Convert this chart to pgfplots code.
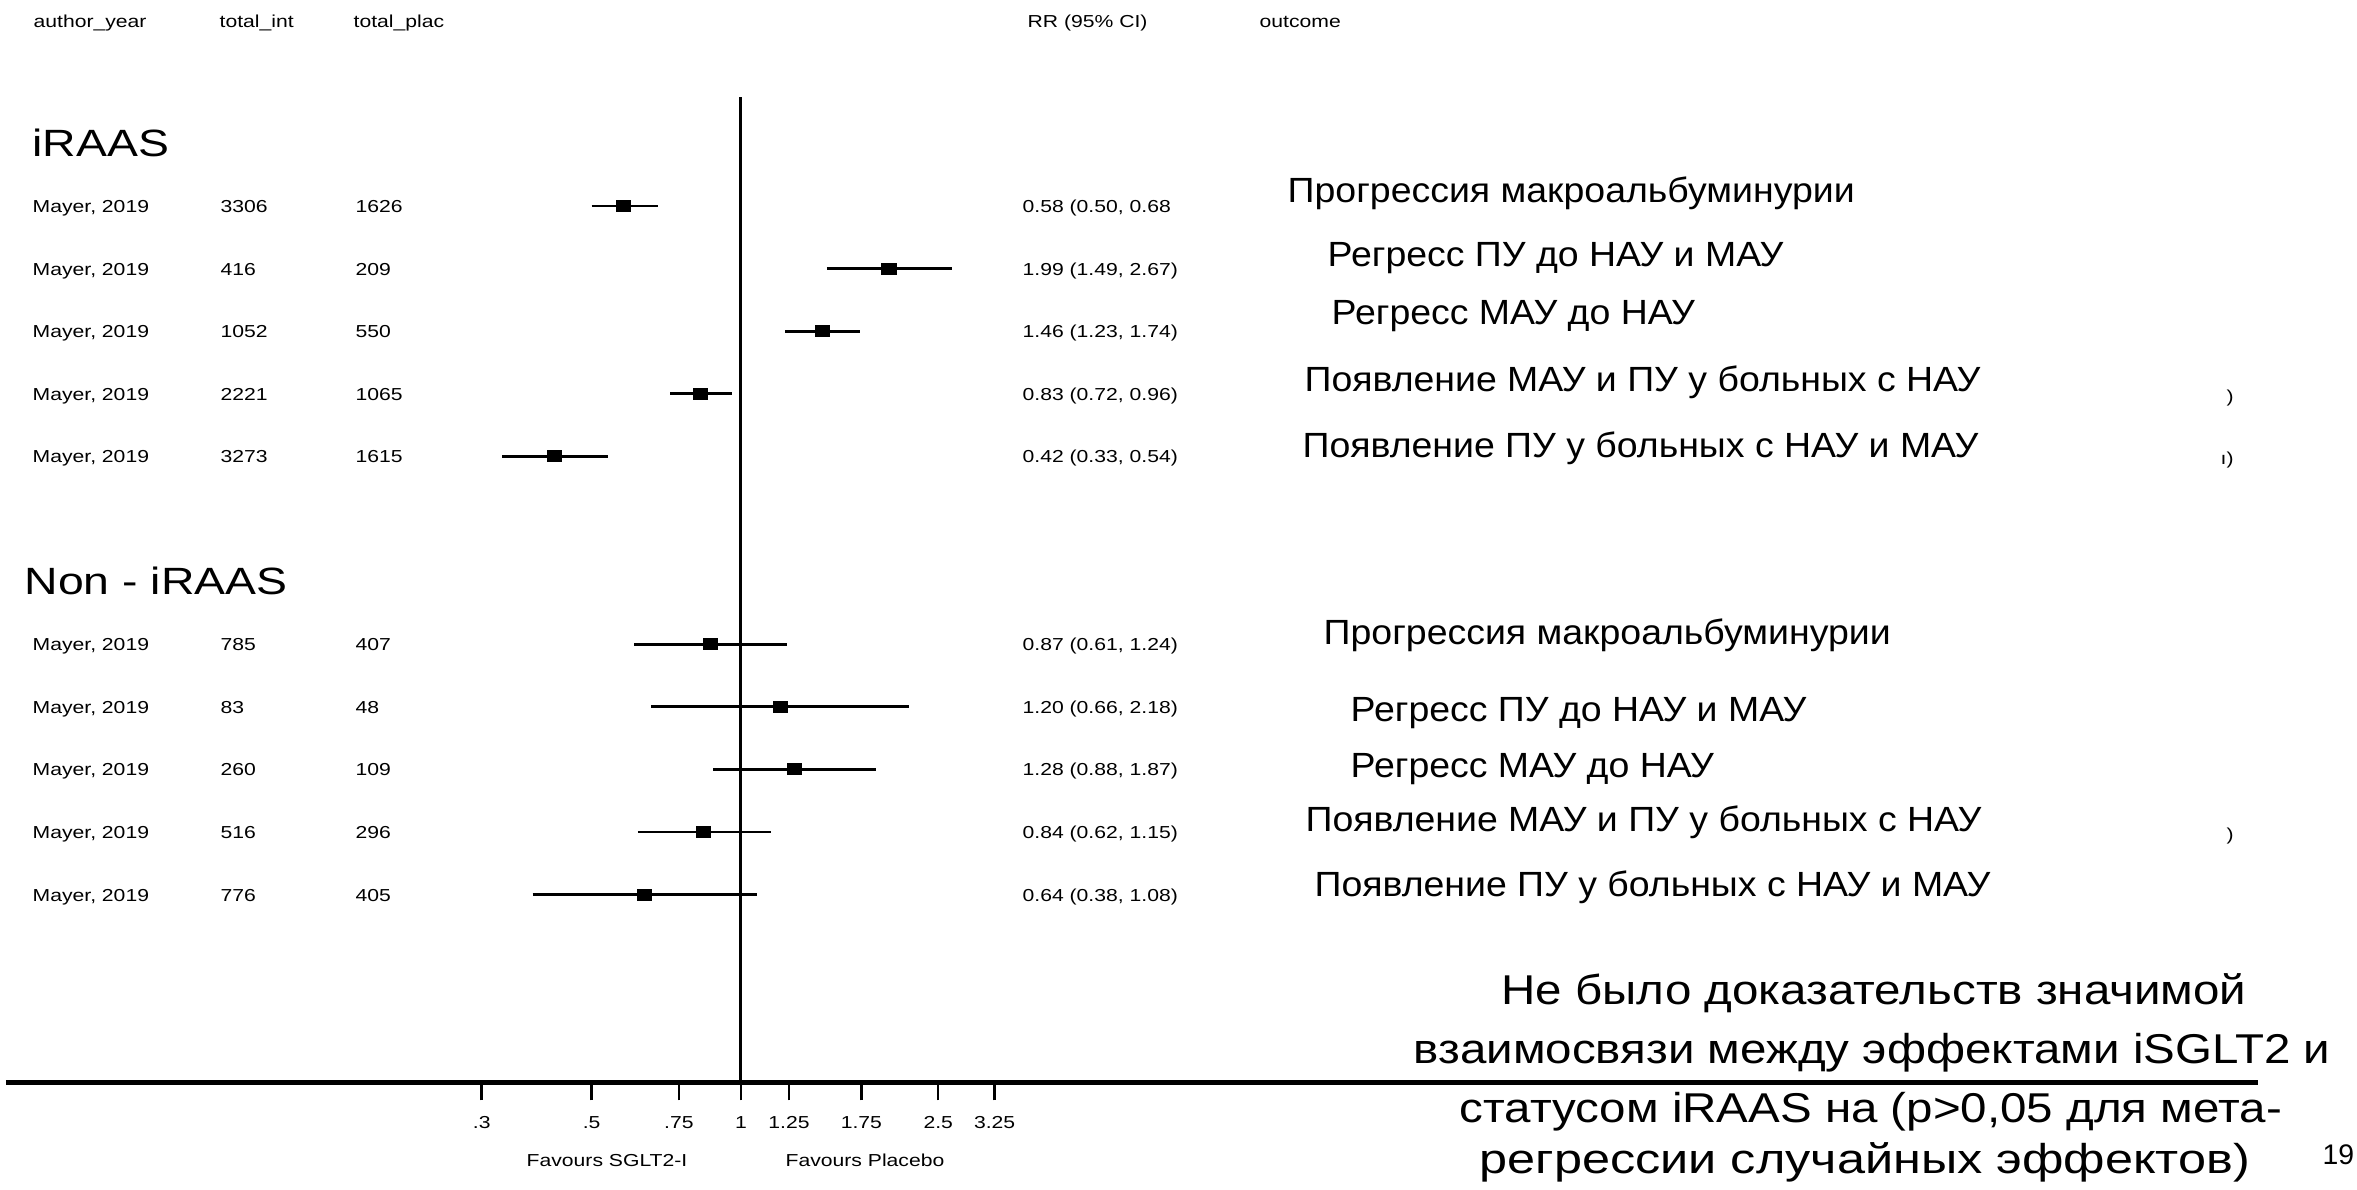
\documentclass[border=0pt]{standalone}
\usepackage{fontspec}
\setmainfont{Liberation Sans}
\usepackage{pgfplots}
\usepackage{pgfplotstable}
\pgfplotsset{compat=1.18}

% Stata-style fonts (slightly widened)
\newfontfamily\statafont[FakeStretch=1.22]{Liberation Sans}
\newfontfamily\outfont[FakeStretch=1.07]{Liberation Sans}
\newfontfamily\notefont[FakeStretch=1.14]{Liberation Sans}
\newfontfamily\notewidefont[FakeStretch=1.21]{Liberation Sans}
\newcommand\sm{\statafont\fontsize{5.2pt}{6pt}\selectfont}
\newcommand\hd{\statafont\fontsize{11.4pt}{13pt}\selectfont}
\newcommand\of{\outfont\fontsize{10.5pt}{12pt}\selectfont}
\newcommand\nt{\notefont\fontsize{12.5pt}{14pt}\selectfont}
\newcommand\ntw{\notewidefont\fontsize{12.5pt}{14pt}\selectfont}

% risk ratios with 95% CI; row = position from the top of the plot
\pgfplotstableread{
row rr   lo   hi
1   0.58 0.50 0.68
2   1.99 1.49 2.67
3   1.46 1.23 1.74
4   0.83 0.72 0.96
5   0.42 0.33 0.54
8   0.87 0.61 1.24
9   1.20 0.66 2.18
10  1.28 0.88 1.87
11  0.84 0.62 1.15
12  0.64 0.38 1.08
}\rrdata

\begin{document}
\begin{tikzpicture}
\begin{axis}[
  at={(1.8pt,-324.72pt)}, anchor=south west,
  scale only axis, width=675.6pt, height=324.72pt,
  xmode=log, xmin=0.03293, xmax=1148.5,
  ymin=-15, ymax=2.2907,
  axis x line=bottom, axis y line=none,
  x axis line style={-, line width=1.3pt},
  xtick={0.3,0.5,0.75,1,1.25,1.75,2.5,3.25},
  xticklabels={.3,.5,.75,1,1.25,1.75,2.5,3.25},
  xminorticks=false,
  tick align=outside,
  major tick length=5.4pt,
  every tick/.style={black, line width=0.75pt},
  xticklabel style={font=\sm, anchor=base, yshift=-8.4pt, inner sep=0pt},
  clip=false,
]
% line of no effect
\addplot[black, line width=0.9pt] coordinates {(1,0.74) (1,-15)};
% confidence intervals
\addplot[black, line width=0.8pt] coordinates {(0.50,-1) (0.68,-1)};
\addplot[black, line width=0.8pt] coordinates {(1.49,-2) (2.67,-2)};
\addplot[black, line width=0.8pt] coordinates {(1.23,-3) (1.74,-3)};
\addplot[black, line width=0.8pt] coordinates {(0.72,-4) (0.96,-4)};
\addplot[black, line width=0.8pt] coordinates {(0.33,-5) (0.54,-5)};
\addplot[black, line width=0.8pt] coordinates {(0.61,-8) (1.24,-8)};
\addplot[black, line width=0.8pt] coordinates {(0.66,-9) (2.18,-9)};
\addplot[black, line width=0.8pt] coordinates {(0.88,-10) (1.87,-10)};
\addplot[black, line width=0.8pt] coordinates {(0.62,-11) (1.15,-11)};
\addplot[black, line width=0.8pt] coordinates {(0.38,-12) (1.08,-12)};
% point estimates
\addplot[only marks, mark=square*, mark size=1.6pt,
  mark options={black, fill=black, xscale=1.29}]
  table[x=rr, y expr=-\thisrow{row}] {\rrdata};
\end{axis}

\begin{scope}[x=0.3pt, y=-0.3pt, every node/.style={inner sep=0pt, anchor=base west}]
% column headers
\node[font=\sm] at (33,27) {author\_year};
\node[font=\sm] at (219,27) {total\_int};
\node[font=\sm] at (353,27) {total\_plac};
\node[font=\sm] at (1027,27) {RR (95\% CI)};
\node[font=\sm] at (1259,27) {outcome};
% group headings
\node[font=\hd] at (32,156) {iRAAS};
\node[font=\hd] at (24,594) {Non - iRAAS};
% study rows
\foreach \y/\a/\b/\c in {
  212.5/3306/1626/{0.58 (0.50, 0.68},
  275.1/416/209/{1.99 (1.49, 2.67)},
  337.7/1052/550/{1.46 (1.23, 1.74)},
  400.3/2221/1065/{0.83 (0.72, 0.96)},
  462.9/3273/1615/{0.42 (0.33, 0.54)},
  650.7/785/407/{0.87 (0.61, 1.24)},
  713.3/83/48/{1.20 (0.66, 2.18)},
  775.9/260/109/{1.28 (0.88, 1.87)},
  838.5/516/296/{0.84 (0.62, 1.15)},
  901.1/776/405/{0.64 (0.38, 1.08)}}{
  \node[font=\sm] at (32,\y) {Mayer, 2019};
  \node[font=\sm] at (220,\y) {\a};
  \node[font=\sm] at (355,\y) {\b};
  \node[font=\sm] at (1022,\y) {\c};
}
% outcomes
\node[font=\of] at (1287,202) {Прогрессия макроальбуминурии};
\node[font=\of] at (1327,266) {Регресс ПУ до НАУ и МАУ};
\node[font=\of] at (1331,324) {Регресс МАУ до НАУ};
\node[font=\of] at (1304,391) {Появление МАУ и ПУ у больных с НАУ};
\node[font=\of] at (1302,457) {Появление ПУ у больных с НАУ и МАУ};
\node[font=\of] at (1323,644) {Прогрессия макроальбуминурии};
\node[font=\of] at (1350,721) {Регресс ПУ до НАУ и МАУ};
\node[font=\of] at (1350,777) {Регресс МАУ до НАУ};
\node[font=\of] at (1305,831) {Появление МАУ и ПУ у больных с НАУ};
\node[font=\of] at (1314,896) {Появление ПУ у больных с НАУ и МАУ};
\node[font=\sm] at (2226,402) {)};
\node[font=\sm] at (2220,464) {ı)};
\node[font=\sm] at (2226,840) {)};
% axis captions
\node[font=\sm, anchor=base] at (607,1166) {Favours SGLT2-I};
\node[font=\sm, anchor=base] at (865,1166) {Favours Placebo};
% note
\node[font=\nt] at (1501,1004) {Не было доказательств значимой};
\node[font=\nt] at (1413,1063) {взаимосвязи между эффектами iSGLT2 и};
\node[font=\nt] at (1459,1122) {статусом iRAAS на (р>0,05 для мета-};
\node[font=\ntw] at (1479,1173) {регрессии случайных эффектов)};
\node[font=\fontsize{8.5pt}{10pt}\selectfont] at (2322,1164) {19};
\end{scope}

\pgfresetboundingbox
\path[use as bounding box] (0,0) rectangle (707.1pt,-356.7pt);
\end{tikzpicture}
\end{document}
